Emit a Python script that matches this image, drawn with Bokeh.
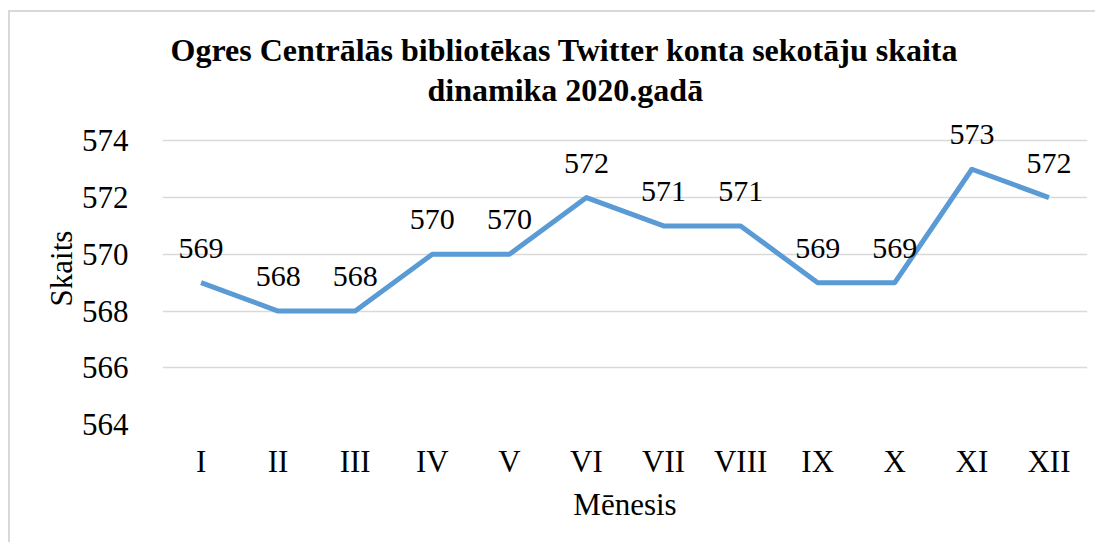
from bokeh.plotting import figure
from bokeh.models import Range1d, FixedTicker, ColumnDataSource, LabelSet, Title
from bokeh.embed import file_html
from bokeh.resources import INLINE

months = ["I", "II", "III", "IV", "V", "VI", "VII", "VIII", "IX", "X", "XI", "XII"]
followers = [569, 568, 568, 570, 570, 572, 571, 571, 569, 569, 573, 572]
y_ticks = [564, 566, 568, 570, 572, 574]
title_line1 = "Ogres Centrālās bibliotēkas Twitter konta sekotāju skaita"
title_line2 = "dinamika 2020.gadā"
x_label = "Mēnesis"
y_label = "Skaits"

FONT = "Liberation Serif"

src = ColumnDataSource(dict(m=months, v=followers, t=[str(v) for v in followers]))

p = figure(x_range=months, y_range=Range1d(564, 575),
           width=1085, height=530, frame_width=925, frame_height=312,
           min_border_left=152, min_border_right=8, min_border_top=100, min_border_bottom=118,
           output_backend="svg", toolbar_location=None)
p.styles = {"border-top": "2px solid #d9d9d9", "border-left": "2px solid #d9d9d9",
            "margin-top": "10px", "margin-left": "8px"}

p.outline_line_color = None
p.background_fill_color = "white"
p.border_fill_color = "white"

p.line("m", "v", source=src, line_color="#5B9BD5", line_width=5, line_join="round")

labels = LabelSet(x="m", y="v", text="t", source=src, text_align="center",
                  text_baseline="alphabetic", y_offset=25,
                  text_font=FONT, text_font_size="30px", text_color="black")
p.add_layout(labels)

# Titles (bottom line added first so it sits closer to the plot)
t2 = Title(text=title_line2, align="left", text_font=FONT, text_font_size="32px",
           text_font_style="bold", text_color="black", offset=265, standoff=9)
t1 = Title(text=title_line1, align="left", text_font=FONT, text_font_size="32px",
           text_font_style="bold", text_color="black", offset=8, standoff=-5)
p.add_layout(t2, "above")
p.add_layout(t1, "above")

p.yaxis.ticker = FixedTicker(ticks=y_ticks)
p.ygrid.ticker = FixedTicker(ticks=y_ticks)
p.ygrid.grid_line_color = "#d9d9d9"
p.ygrid.grid_line_width = 1.5
p.xgrid.grid_line_color = None

for ax in (p.xaxis, p.yaxis):
    ax.axis_line_color = None
    ax.major_tick_line_color = None
    ax.minor_tick_line_color = None
    ax.major_label_text_font = FONT
    ax.major_label_text_font_size = "31px"
    ax.major_label_text_color = "black"
    ax.axis_label_text_font = FONT
    ax.axis_label_text_font_size = "31px"
    ax.axis_label_text_font_style = "normal"
    ax.axis_label_text_color = "black"

p.yaxis.major_label_standoff = 28
p.yaxis.axis_label = y_label
p.yaxis.axis_label_standoff = 0
p.xaxis.major_label_standoff = 13
p.xaxis.axis_label = x_label
p.xaxis.axis_label_standoff = 5

open("out.html", "w").write(file_html(p, INLINE))
